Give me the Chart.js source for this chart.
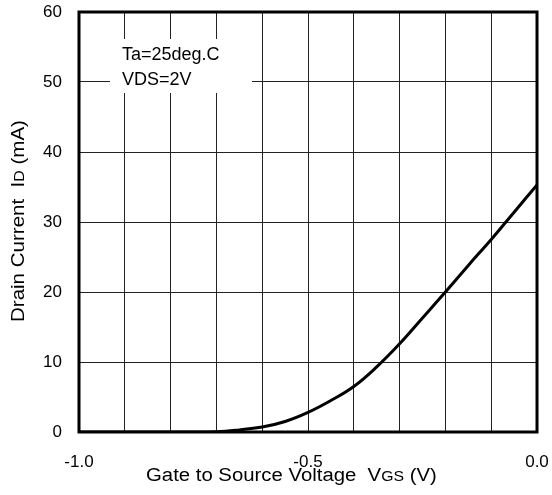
<!DOCTYPE html>
<html>
<head>
<meta charset="utf-8">
<script src="https://cdn.jsdelivr.net/npm/chart.js@4"></script>
<style>
  body { margin: 0; background: #fff; }
  #wrap { width: 552px; height: 495px; }
</style>
</head>
<body>
<div id="wrap"><canvas id="chart" width="552" height="495"></canvas></div>
<script>
// datos
const vgs = [-1.0, -0.8, -0.72, -0.68, -0.65, -0.6, -0.55, -0.5, -0.45, -0.4, -0.35, -0.3, -0.25, -0.2, -0.15, -0.1, -0.05, 0.0];
const idrain = [0, 0, 0, 0.1, 0.3, 0.7, 1.5, 2.8, 4.5, 6.5, 9.3, 12.6, 16.3, 20.0, 23.8, 27.5, 31.4, 35.3];
const xTickLabels = ['-1.0', '-0.5', '0.0'];
const legendLines = ['Ta=25deg.C', 'VDS=2V'];

const FONT = '"Liberation Sans", Arial, sans-serif';

// quitar el relleno automático de las escalas para fijar el área del gráfico
const noPad = s => { s.paddingLeft = 0; s.paddingRight = 0; s.paddingTop = 0; s.paddingBottom = 0; };

// escribe texto con subíndice, estirado en horizontal
const drawParts = (ctx, parts, stretch) => {
    ctx.scale(stretch, 1);
    let x = 0;
    parts.forEach(([f, t]) => {
        ctx.font = f;
        ctx.fillText(t, x, 0);
        x += ctx.measureText(t).width;
    });
};

// marco, recuadro de condiciones y títulos de ejes
const extras = {
    id: 'extras',
    beforeDatasetsDraw(chart) {
        const { ctx, chartArea: a } = chart;
        ctx.save();
        // recuadro blanco de condiciones
        ctx.fillStyle = '#fff';
        ctx.fillRect(a.left + 31, a.top + 27, 142, 54);
        ctx.fillStyle = '#000';
        ctx.font = '18px ' + FONT;
        ctx.textBaseline = 'alphabetic';
        ctx.fillText(legendLines[0], a.left + 43, a.top + 48);
        ctx.fillText(legendLines[1], a.left + 43, a.top + 73);
        // marco
        ctx.strokeStyle = '#000';
        ctx.lineWidth = 3;
        ctx.strokeRect(a.left, a.top, a.right - a.left, a.bottom - a.top);
        ctx.restore();
    },
    afterDraw(chart) {
        const { ctx } = chart;
        const big = '18px ' + FONT, small = '14px ' + FONT;
        ctx.save();
        ctx.fillStyle = '#000';
        ctx.textBaseline = 'alphabetic';
        // título eje X
        ctx.translate(146, 481);
        drawParts(ctx, [[big, 'Gate to Source Voltage  V'], [small, 'GS'], [big, ' (V)']], 1.13);
        ctx.restore();
        // título eje Y
        ctx.save();
        ctx.fillStyle = '#000';
        ctx.translate(24, 322);
        ctx.rotate(-Math.PI / 2);
        drawParts(ctx, [[big, 'Drain Current  I'], [small, 'D'], [big, ' (mA)']], 1.14);
        ctx.restore();
    }
};

new Chart(document.getElementById('chart'), {
    type: 'line',
    data: {
        datasets: [{
            data: vgs.map((v, i) => ({ x: v, y: idrain[i] })),
            borderColor: '#000',
            borderWidth: 3,
            pointRadius: 0,
            tension: 0.4,
            fill: false
        }]
    },
    options: {
        responsive: false,
        animation: false,
        layout: { padding: { top: 12, right: 15, left: 0, bottom: 0 } },
        plugins: { legend: { display: false }, tooltip: { enabled: false } },
        scales: {
            x: {
                type: 'linear',
                min: -1, max: 0,
                afterFit: s => { s.height = 63; noPad(s); },
                grid: { color: '#222', lineWidth: 1, drawTicks: false },
                border: { display: false },
                ticks: {
                    stepSize: 0.1,
                    autoSkip: false,
                    maxRotation: 0,
                    padding: 20,
                    color: '#000',
                    font: { family: FONT, size: 17 },
                    callback: v => {
                        const k = Math.round(v * 10);
                        return k % 5 === 0 ? xTickLabels[(k + 10) / 5] : '';
                    }
                }
            },
            y: {
                min: 0, max: 60,
                afterFit: s => { s.width = 79; noPad(s); },
                grid: { color: '#222', lineWidth: 1, drawTicks: false },
                border: { display: false },
                ticks: {
                    stepSize: 10,
                    padding: 17,
                    color: '#000',
                    font: { family: FONT, size: 17 }
                }
            }
        }
    },
    plugins: [extras]
});
</script>
</body>
</html>
